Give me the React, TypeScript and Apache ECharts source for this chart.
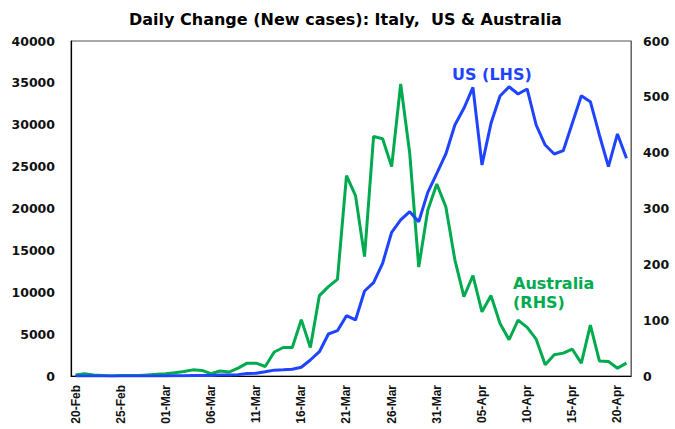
import React, { useEffect, useRef } from "react";
import * as echarts from "echarts";

const categories = [
  "20-Feb","21-Feb","22-Feb","23-Feb","24-Feb","25-Feb","26-Feb","27-Feb","28-Feb","29-Feb",
  "01-Mar","02-Mar","03-Mar","04-Mar","05-Mar","06-Mar","07-Mar","08-Mar","09-Mar","10-Mar",
  "11-Mar","12-Mar","13-Mar","14-Mar","15-Mar","16-Mar","17-Mar","18-Mar","19-Mar","20-Mar",
  "21-Mar","22-Mar","23-Mar","24-Mar","25-Mar","26-Mar","27-Mar","28-Mar","29-Mar","30-Mar",
  "31-Mar","01-Apr","02-Apr","03-Apr","04-Apr","05-Apr","06-Apr","07-Apr","08-Apr","09-Apr",
  "10-Apr","11-Apr","12-Apr","13-Apr","14-Apr","15-Apr","16-Apr","17-Apr","18-Apr","19-Apr",
  "20-Apr","21-Apr"
];

const usCases = [
  0, 0, 1, 0, 0, 0, 0, 1, 3, 8,
  7, 23, 20, 49, 52, 45, 116, 106, 163, 290,
  330, 500, 700, 740, 800, 1040, 1910, 2900, 5015, 5410,
  7200, 6690, 10150, 11140, 13460, 17160, 18630, 19620, 18420, 21930,
  24200, 26510, 29970, 31960, 34470, 25190, 30170, 33430, 34540, 33670,
  34270, 29970, 27580, 26510, 26900, 30170, 33470, 32750, 28780, 24990,
  28900, 25990
];

const australiaCases = [
  2, 4, 2, 1, 0, 1, 1, 1, 2, 3,
  4, 6, 8, 11, 10, 4, 9, 7, 14, 23,
  23, 17, 43, 51, 51, 101, 51, 144, 160, 173,
  359, 323, 214, 429, 425, 375, 523, 399, 195, 297,
  344, 303, 208, 142, 180, 115, 144, 94, 65, 100,
  87, 66, 20, 38, 41, 48, 23, 91, 27, 26,
  14, 23
];

const leftTicks = { min: 0, max: 40000, interval: 5000 };
const rightTicks = { min: 0, max: 600, interval: 100 };

const BLUE = "#1e44ff";
const GREEN = "#00aa4f";

export default function App() {
  const ref = useRef<HTMLDivElement>(null);
  useEffect(() => {
    document.body.style.margin = "0";
    const chart = echarts.init(ref.current!, null, { renderer: "svg" });
    const wideFont = "DejaVu Sans";
    chart.setOption({
      animation: false,
      backgroundColor: "#ffffff",
      title: {
        text: "Daily Change (New cases): Italy,  US & Australia",
        left: 124,
        top: 6,
        textStyle: { fontFamily: wideFont, fontWeight: "bold", fontSize: 16, color: "#000" },
      },
      grid: {
        left: 71,
        right: 44,
        top: 41,
        bottom: 53,
        show: true,
        borderColor: "#555",
        borderWidth: 1,
      },
      xAxis: {
        type: "category",
        data: categories,
        boundaryGap: true,
        axisLine: { lineStyle: { color: "#000", width: 1.2 } },
        axisTick: { interval: 4, length: 5, lineStyle: { color: "#000" } },
        axisLabel: {
          interval: 4,
          rotate: 90,
          margin: 9,
          fontFamily: "Arial, Liberation Sans",
          fontWeight: "bold",
          fontSize: 12,
          color: "#111",
        },
        splitLine: { show: false },
      },
      yAxis: [
        {
          type: "value",
          ...leftTicks,
          position: "left",
          axisLine: { show: true, lineStyle: { color: "#000", width: 1.2 } },
          axisTick: { show: false },
          splitLine: { show: false },
          axisLabel: {
            margin: 16,
            formatter: (v: number) => String(v),
            fontFamily: wideFont,
            fontWeight: "bold",
            fontSize: 12.5,
            color: "#111",
          },
        },
        {
          type: "value",
          ...rightTicks,
          position: "right",
          axisLine: { show: true, lineStyle: { color: "#666", width: 1 } },
          axisTick: { show: false },
          splitLine: { show: false },
          axisLabel: {
            margin: 12,
            formatter: (v: number) => String(v),
            fontFamily: wideFont,
            fontWeight: "bold",
            fontSize: 12.5,
            color: "#111",
          },
        },
      ],
      series: [
        {
          name: "US (LHS)",
          type: "line",
          yAxisIndex: 0,
          data: usCases,
          symbol: "none",
          lineStyle: { color: BLUE, width: 3 },
          z: 3,
        },
        {
          name: "Australia (RHS)",
          type: "line",
          yAxisIndex: 1,
          data: australiaCases,
          symbol: "none",
          lineStyle: { color: GREEN, width: 3 },
          z: 2,
        },
      ],
      graphic: [
        {
          type: "text",
          left: 452,
          top: 66,
          style: {
            text: "US (LHS)",
            fill: BLUE,
            font: `bold 16px "${wideFont}"`,
          },
        },
        {
          type: "text",
          left: 513,
          top: 274,
          style: {
            text: "Australia\n(RHS)",
            fill: GREEN,
            font: `bold 16px "${wideFont}"`,
            lineHeight: 19,
          },
        },
      ],
    });
    return () => chart.dispose();
  }, []);
  return <div ref={ref} style={{ width: 675, height: 429 }} />;
}
